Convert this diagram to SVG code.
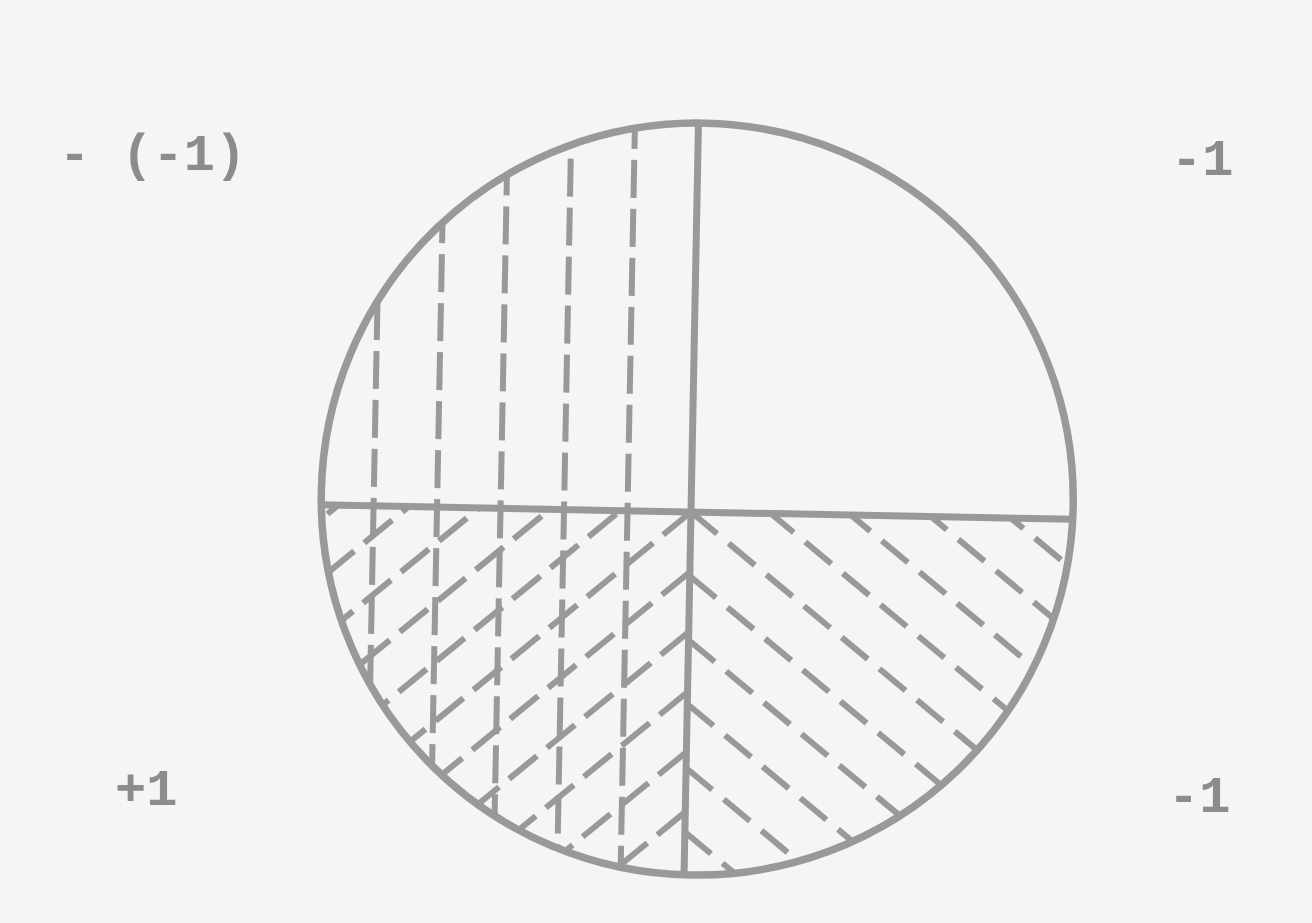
<svg xmlns="http://www.w3.org/2000/svg" width="1312" height="923" viewBox="0 0 1312 923">
<style>
.bg{fill:#f5f5f5}
.outline{fill:none;stroke:#999;stroke-width:7.5}
.axis{stroke:#999;stroke-width:7;fill:none}
.vd{stroke:#999;stroke-width:6;stroke-dasharray:38 11;fill:none}
.dl{stroke:#999;stroke-width:6;stroke-dasharray:36 13;fill:none}
.dr{stroke:#999;stroke-width:6;stroke-dasharray:34 15;fill:none}
.lbl{font-family:"Liberation Mono","DejaVu Sans Mono",monospace;font-size:52px;font-weight:bold;fill:#8c8c8c}
</style>
<defs>
<clipPath id="circ"><circle cx="6" cy="-13" r="376"/></clipPath>
<clipPath id="ll"><rect x="-400" y="0" width="400" height="420"/></clipPath>
<clipPath id="lr"><rect x="0" y="0" width="420" height="420"/></clipPath>
</defs>
<rect class="bg" x="0" y="0" width="1312" height="923"/>
<g id="disc" transform="translate(691,512) rotate(1.1)">
<g id="hatching" clip-path="url(#circ)">
<g id="upper-left-verticals">
<line class="vd" x1="-63.5" y1="-400" x2="-63.5" y2="400"/>
<line class="vd" x1="-127" y1="-400" x2="-127" y2="400"/>
<line class="vd" x1="-190.5" y1="-400" x2="-190.5" y2="400"/>
<line class="vd" x1="-254" y1="-400" x2="-254" y2="400"/>
<line class="vd" x1="-317.5" y1="-400" x2="-317.5" y2="400"/>
</g>
<g id="lower-left-diagonals" clip-path="url(#ll)">
<line class="dl" x1="0" y1="-360" x2="-400" y2="-20"/>
<line class="dl" x1="0" y1="-300" x2="-400" y2="40"/>
<line class="dl" x1="0" y1="-240" x2="-400" y2="100"/>
<line class="dl" x1="0" y1="-180" x2="-400" y2="160"/>
<line class="dl" x1="0" y1="-120" x2="-400" y2="220"/>
<line class="dl" x1="0" y1="-60" x2="-400" y2="280"/>
<line class="dl" x1="0" y1="0" x2="-400" y2="340"/>
<line class="dl" x1="0" y1="60" x2="-400" y2="400"/>
<line class="dl" x1="0" y1="120" x2="-400" y2="460"/>
<line class="dl" x1="0" y1="180" x2="-400" y2="520"/>
<line class="dl" x1="0" y1="240" x2="-400" y2="580"/>
<line class="dl" x1="0" y1="300" x2="-400" y2="640"/>
<line class="dl" x1="0" y1="360" x2="-400" y2="700"/>
</g>
<g id="lower-right-diagonals" clip-path="url(#lr)">
<line class="dr" x1="0" y1="-320" x2="400" y2="0"/>
<line class="dr" x1="0" y1="-256" x2="400" y2="64"/>
<line class="dr" x1="0" y1="-192" x2="400" y2="128"/>
<line class="dr" x1="0" y1="-128" x2="400" y2="192"/>
<line class="dr" x1="0" y1="-64" x2="400" y2="256"/>
<line class="dr" x1="0" y1="0" x2="400" y2="320"/>
<line class="dr" x1="0" y1="64" x2="400" y2="384"/>
<line class="dr" x1="0" y1="128" x2="400" y2="448"/>
<line class="dr" x1="0" y1="192" x2="400" y2="512"/>
<line class="dr" x1="0" y1="256" x2="400" y2="576"/>
<line class="dr" x1="0" y1="320" x2="400" y2="640"/>
</g>
</g>
<g id="axes">
<line class="axis" x1="-372" y1="0" x2="384" y2="0"/>
<line class="axis" x1="0" y1="-390" x2="0" y2="363"/>
</g>
<circle class="outline" cx="6" cy="-13" r="376"/>
</g>
<g id="labels">
<text id="label-top-left" class="lbl" x="59" y="170">- (-1)</text>
<text id="label-top-right" class="lbl" x="1171" y="175">-1</text>
<text id="label-bottom-left" class="lbl" x="115" y="805">+1</text>
<text id="label-bottom-right" class="lbl" x="1168" y="812">-1</text>
</g>
</svg>
